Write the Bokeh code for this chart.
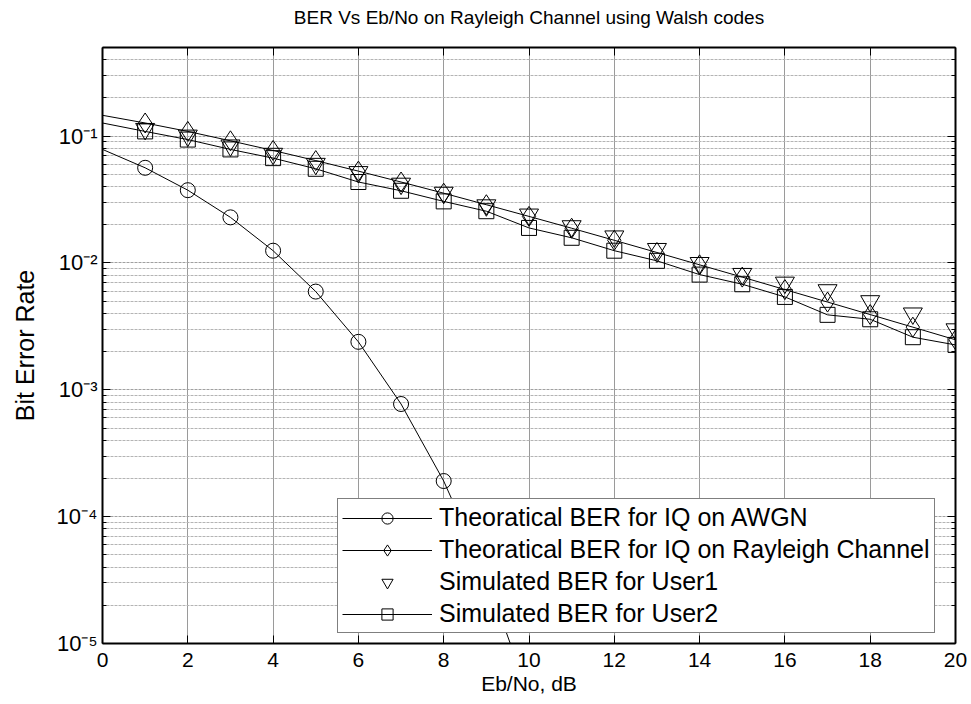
from bokeh.plotting import figure
from bokeh.models import (Range1d, FixedTicker, LinearAxis, LogAxis, Legend,
                          LegendItem, CustomJSTickFormatter)
from bokeh.embed import file_html
from bokeh.resources import INLINE

# ---------------- data ----------------
ebno_db = [0, 1, 2, 3, 4, 5, 6, 7, 8, 9, 10, 11, 12, 13, 14, 15, 16, 17, 18, 19, 20]

ebno_awgn = [0, 1, 2, 3, 4, 5, 6, 7, 8, 9, 10]
ber_theory_awgn = [0.0786, 0.0563, 0.0375, 0.0229, 0.0125, 0.00595, 0.00239,
                   0.000773, 0.000191, 3.36e-5, 3.87e-6]

ber_theory_rayleigh = [0.146, 0.127, 0.109, 0.0919, 0.0771, 0.0642, 0.0530, 0.0435,
                       0.0355, 0.0288, 0.0233, 0.0188, 0.0151, 0.0121, 0.00967,
                       0.00774, 0.00617, 0.00492, 0.00392, 0.00312, 0.00248]

ebno_user1 = [1, 2, 3, 4, 5, 6, 7, 8, 9, 10, 11, 12, 13, 14, 15, 16, 17, 18, 19, 20]
ber_sim_user1 = [0.114, 0.101, 0.0845, 0.0726, 0.0605, 0.0521, 0.0422, 0.0358, 0.0285,
                 0.0241, 0.0195, 0.0162, 0.0129, 0.0100, 0.0082, 0.0070, 0.0061,
                 0.0050, 0.0040, 0.0030]

ber_sim_user2 = [0.127, 0.109, 0.094, 0.0786, 0.0671, 0.0553, 0.0435, 0.0371, 0.0306,
                 0.0256, 0.0189, 0.0158, 0.0125, 0.0104, 0.0081, 0.0068, 0.0054,
                 0.0039, 0.0036, 0.0026, 0.00226]

x_ticks = [0, 2, 4, 6, 8, 10, 12, 14, 16, 18, 20]
y_ticks = [1e-5, 1e-4, 1e-3, 1e-2, 1e-1]
y_tick_labels = ["10\u207b\u2075", "10\u207b\u2074", "10\u207b\u00b3", "10\u207b\u00b2", "10\u207b\u00b9"]

legend_labels = ["Theoratical BER for IQ on AWGN",
                 "Theoratical BER for IQ on Rayleigh Channel",
                 "Simulated BER for User1",
                 "Simulated BER for User2"]

title_text = "BER Vs Eb/No on Rayleigh Channel using Walsh codes"
x_label = "Eb/No, dB"
y_label = "Bit Error Rate"

# ---------------- figure ----------------
FONT = "Liberation Sans"

y_minor = [m * 10.0 ** e for e in range(-5, 0) for m in range(2, 10)]
x_ticker = FixedTicker(ticks=x_ticks)
y_ticker = FixedTicker(ticks=y_ticks, minor_ticks=y_minor)

p = figure(width=971, height=704, title=None,
           x_range=Range1d(0, 20), y_range=Range1d(1e-5, 0.5),
           y_axis_type="log",
           output_backend="svg", toolbar_location=None,
           min_border_left=102, min_border_right=16,
           min_border_top=47, min_border_bottom=61)

p.background_fill_color = "white"
p.border_fill_color = "white"
p.outline_line_color = None

fmt = CustomJSTickFormatter(args=dict(tvals=y_ticks, tlabels=y_tick_labels), code="""
let best = 0;
for (let i = 0; i < tvals.length; i++) {
  if (Math.abs(Math.log10(tvals[i]) - Math.log10(tick)) <
      Math.abs(Math.log10(tvals[best]) - Math.log10(tick))) best = i;
}
return tlabels[best];
""")

xa = p.xaxis[0]
ya = p.yaxis[0]
xa.ticker = x_ticker
ya.ticker = y_ticker
ya.formatter = fmt
xa.axis_label = x_label
ya.axis_label = y_label

# top axis carries the box ticks and the chart title
top = LinearAxis(ticker=x_ticker, axis_label=title_text)
right = LogAxis(ticker=y_ticker)
p.add_layout(top, "above")
p.add_layout(right, "right")

for ax in (xa, ya, top, right):
    ax.axis_line_color = "black"
    ax.axis_line_width = 2
    ax.major_tick_line_color = "black"
    ax.minor_tick_line_color = "black"
    ax.major_tick_in = 8
    ax.major_tick_out = 0
    ax.minor_tick_in = 4
    ax.minor_tick_out = 0
    ax.major_label_text_font = FONT
    ax.major_label_text_color = "black"
    ax.major_label_text_font_size = "21px"
    ax.axis_label_text_font = FONT
    ax.axis_label_text_font_size = "21px"
    ax.axis_label_text_font_style = "normal"
    ax.axis_label_text_color = "black"

ya.axis_label_text_font_size = "25px"
ya.major_label_text_font_size = "22px"
top.axis_label_text_font_size = "19px"
top.axis_label_standoff = 20
xa.minor_tick_line_color = None
top.minor_tick_line_color = None
for ax in (top, right):
    ax.major_label_text_font_size = "1px"
    ax.major_label_text_alpha = 0
    ax.major_label_standoff = 0

xa.major_label_standoff = 9
xa.axis_label_standoff = 2
ya.major_label_standoff = 5
ya.axis_label_standoff = 15

p.xgrid.ticker = x_ticker
p.ygrid.ticker = y_ticker
p.xgrid.grid_line_color = "#9a9a9a"
p.ygrid.grid_line_color = "#a0a0a0"
p.ygrid.minor_grid_line_color = "#b4b4b4"
p.ygrid.minor_grid_line_dash = "3 1"
p.ygrid.grid_line_dash = "3 1"

# ---------------- series ----------------
LC = "black"
r_awgn_line = p.line(ebno_awgn, ber_theory_awgn, line_color=LC, line_width=1)
r_awgn_mk = p.scatter(ebno_awgn[1:], ber_theory_awgn[1:], marker="circle", size=15,
                      fill_color=None, line_color=LC, line_width=1)

r_ray_line = p.line(ebno_db, ber_theory_rayleigh, line_color=LC, line_width=1)
r_ray_mk = p.scatter(ebno_db[1:], ber_theory_rayleigh[1:], marker="diamond", size=20,
                     fill_color=None, line_color=LC, line_width=1)

r_u1_mk = p.scatter(ebno_user1, ber_sim_user1, marker="inverted_triangle", size=19,
                    fill_color=None, line_color=LC, line_width=1)

r_u2_line = p.line(ebno_db, ber_sim_user2, line_color=LC, line_width=1)
r_u2_mk = p.scatter(ebno_db[1:], ber_sim_user2[1:], marker="square", size=15,
                    fill_color=None, line_color=LC, line_width=1)

legend = Legend(items=[
    LegendItem(label=legend_labels[0], renderers=[r_awgn_line, r_awgn_mk]),
    LegendItem(label=legend_labels[1], renderers=[r_ray_line, r_ray_mk]),
    LegendItem(label=legend_labels[2], renderers=[r_u1_mk]),
    LegendItem(label=legend_labels[3], renderers=[r_u2_line, r_u2_mk]),
], location=(235, 10), glyph_width=90, glyph_height=28, spacing=3, padding=4,
    label_standoff=7, label_text_font=FONT, label_text_font_size="25px",
    label_text_color="black", border_line_color="black", border_line_width=1,
    background_fill_color="white", background_fill_alpha=1.0, margin=0)
p.add_layout(legend)

open("out.html", "w").write(file_html(p, INLINE))
